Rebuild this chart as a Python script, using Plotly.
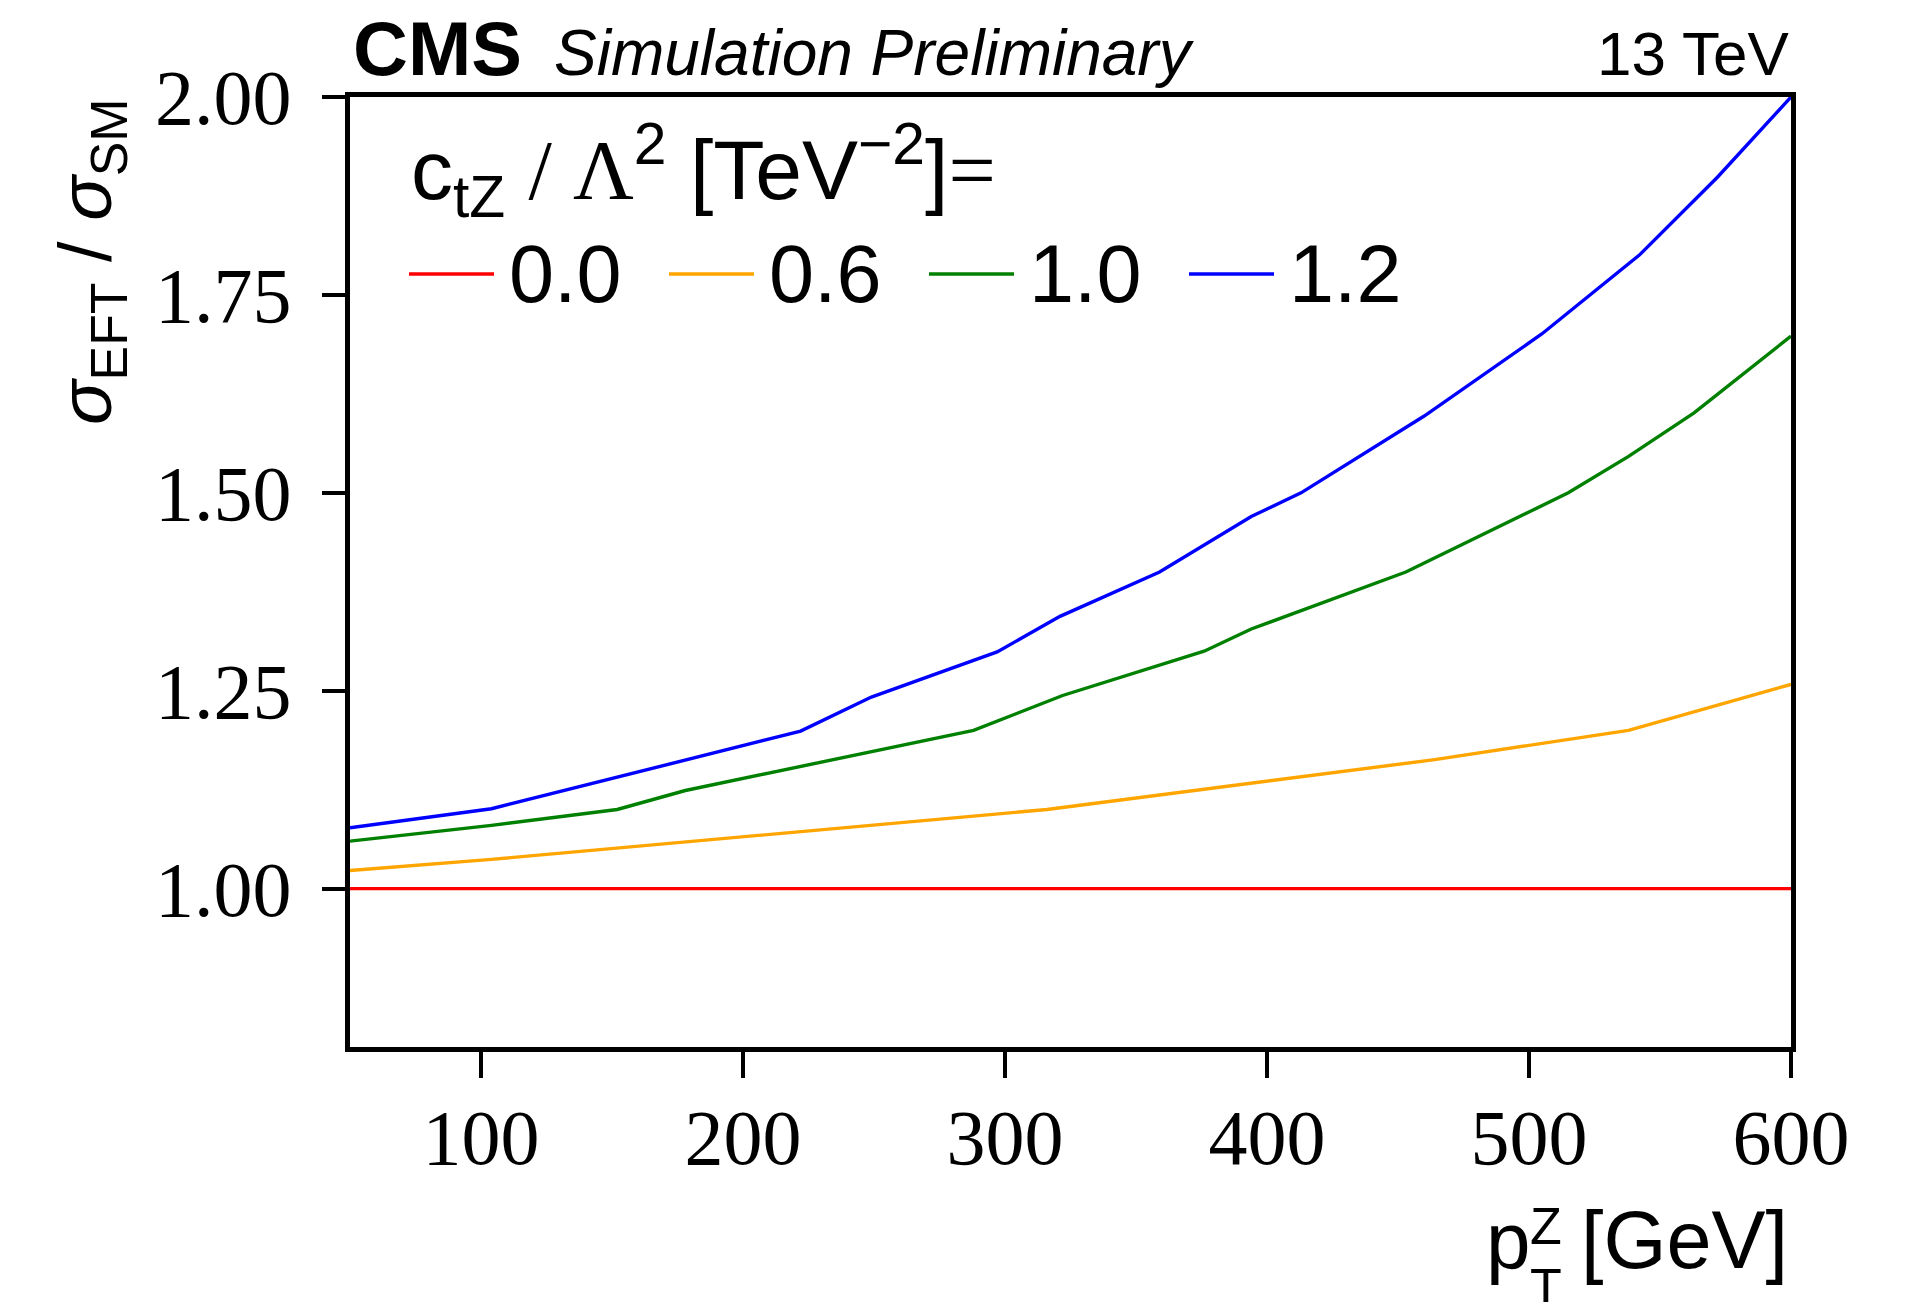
import plotly.graph_objects as go

# ---- data: cross-section ratio vs. Z boson pT for several c_tZ values ----
ctz_values = ["0.0", "0.6", "1.0", "1.2"]
line_colors = ["#ff0000", "#ffa500", "#008000", "#0000ff"]

pt_ctz_00 = [50, 600]
ratio_ctz_00 = [1.0, 1.0]

pt_ctz_06 = [50, 104, 316, 464, 538, 600]
ratio_ctz_06 = [1.023, 1.037, 1.100, 1.163, 1.200, 1.258]

pt_ctz_10 = [50, 104, 152, 178, 288, 322, 376, 394, 453, 515, 538, 563, 600]
ratio_ctz_10 = [1.060, 1.080, 1.100, 1.124, 1.200, 1.244, 1.300, 1.328, 1.400, 1.500, 1.546, 1.601, 1.698]

pt_ctz_12 = [50, 104, 222, 249, 297, 321, 359, 394, 413, 460, 505, 542, 572, 600]
ratio_ctz_12 = [1.077, 1.101, 1.199, 1.242, 1.299, 1.344, 1.400, 1.470, 1.500, 1.597, 1.701, 1.800, 1.899, 2.000]

x_ticks = [100, 200, 300, 400, 500, 600]
y_ticks = [1.00, 1.25, 1.50, 1.75, 2.00]
y_tick_text = ["1.00", "1.25", "1.50", "1.75", "2.00"]

series = [
    (pt_ctz_00, ratio_ctz_00),
    (pt_ctz_06, ratio_ctz_06),
    (pt_ctz_10, ratio_ctz_10),
    (pt_ctz_12, ratio_ctz_12),
]

# ---- geometry (pixels) ----
W, H = 1905, 1302
L, R, T, B = 350, 1791, 97, 1047
PW, PH = R - L, B - T

SANS = "Liberation Sans, Arial, sans-serif"
SERIF = "Liberation Serif, Times New Roman, serif"


def px(xp):
    return (xp - L) / PW


def py(yp):
    return (B - yp) / PH


def text_at(x, baseline, text, size, anchor="left", family=SANS, **kw):
    # place a single line of text by its baseline position
    centre = baseline - 0.3465 * size
    return dict(
        x=px(x), y=py(centre), xref="paper", yref="paper",
        text=text, showarrow=False, xanchor=anchor, yanchor="middle",
        font=dict(family=family, size=size, color="black"), borderpad=0, **kw,
    )


fig = go.Figure()
for (xs, ys), name, col in zip(series, ctz_values, line_colors):
    fig.add_trace(go.Scatter(
        x=xs, y=ys, mode="lines", name=name,
        line=dict(color=col, width=3.4), showlegend=False,
    ))

annotations = []
shapes = []

# header
annotations.append(text_at(352, 75, "<b>CMS</b>", 76))
annotations.append(text_at(553, 75, "<i>Simulation Preliminary</i>", 64))
annotations.append(text_at(1791, 75, "13 TeV", 62, anchor="right"))

# legend title
annotations.append(text_at(
    410, 199,
    "c<sub>tZ</sub> <span style=\"font-family:Liberation Serif\">/ Λ</span><sup>2</sup> "
    "[TeV<sup>−2</sup>]<span style=\"font-family:Liberation Serif\">=</span>",
    84,
))

# legend entries
for i, (name, col) in enumerate(zip(ctz_values, line_colors)):
    x0 = 409 + 260 * i
    shapes.append(dict(
        type="line", xref="paper", yref="paper",
        x0=px(x0), x1=px(x0 + 85), y0=py(274), y1=py(274),
        line=dict(color=col, width=3.5),
    ))
    annotations.append(text_at(x0 + 99, 302, name, 81))

# y-axis title
annotations.append(dict(
    x=px(91), y=1.0, xref="paper", yref="paper",
    text="<i>σ</i><sub>EFT</sub> / <i>σ</i><sub>SM</sub>",
    textangle=-90, showarrow=False, xanchor="center", yanchor="top",
    font=dict(family=SANS, size=74, color="black"),
))

# x-axis title: p with stacked T / Z, then [GeV]
annotations.append(text_at(1485, 1268, "p", 80))
annotations.append(text_at(1529, 1244, "Z", 52))
annotations.append(text_at(1529, 1305, "T", 52))
annotations.append(text_at(1789, 1268, "[GeV]", 81, anchor="right"))

fig.update_layout(
    width=W, height=H,
    margin=dict(l=L, r=W - R, t=T, b=H - B, pad=0),
    paper_bgcolor="white", plot_bgcolor="white",
    showlegend=False,
    annotations=annotations,
    shapes=shapes,
    xaxis=dict(
        range=[50, 600], tickvals=x_ticks, ticktext=[str(v) for v in x_ticks],
        showgrid=False, zeroline=False,
        showline=True, mirror=True, linecolor="black", linewidth=5,
        ticks="outside", ticklen=26, tickwidth=3.5, tickcolor="black",
        tickfont=dict(family=SERIF, size=78, color="black"),
        ticklabelstandoff=-8,
    ),
    yaxis=dict(
        range=[0.8, 2.0], tickvals=y_ticks, ticktext=y_tick_text,
        showgrid=False, zeroline=False,
        showline=True, mirror=True, linecolor="black", linewidth=5,
        ticks="outside", ticklen=23, tickwidth=3.5, tickcolor="black",
        tickfont=dict(family=SERIF, size=78, color="black"),
        ticklabelstandoff=15,
    ),
)

fig.write_html("out.html")
